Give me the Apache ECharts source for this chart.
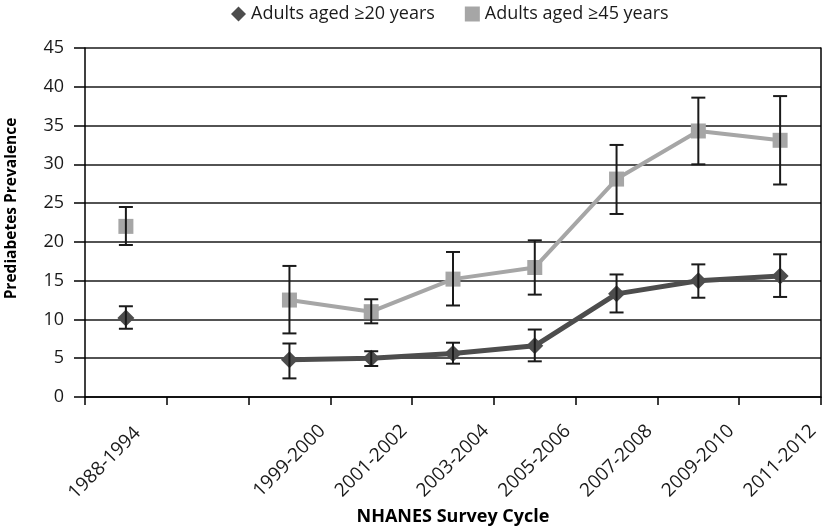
<!DOCTYPE html>
<html>
<head>
<meta charset="utf-8">
<script src="https://cdn.jsdelivr.net/npm/echarts@6/dist/echarts.min.js"></script>
<style>html,body{margin:0;padding:0;background:#fff}#c{width:825px;height:531px}</style>
</head>
<body>
<div id="c"></div>
<script>
const categories = ['1988-1994', '', '1999-2000', '2001-2002', '2003-2004', '2005-2006', '2007-2008', '2009-2010', '2011-2012'];
const yTicks = [0, 5, 10, 15, 20, 25, 30, 35, 40, 45];

const adults20 = [10.2, null, 4.8, 5.0, 5.6, 6.6, 13.3, 15.0, 15.6];
const adults20Low = [8.8, null, 2.4, 4.0, 4.3, 4.6, 10.9, 12.8, 12.9];
const adults20High = [11.7, null, 6.9, 5.9, 7.0, 8.7, 15.8, 17.1, 18.4];

const adults45 = [22.0, null, 12.5, 11.0, 15.2, 16.7, 28.1, 34.3, 33.1];
const adults45Low = [19.6, null, 8.2, 9.5, 11.8, 13.2, 23.6, 30.0, 27.4];
const adults45High = [24.5, null, 16.9, 12.6, 18.7, 20.2, 32.5, 38.6, 38.8];

function errData(lo, hi) {
  const out = [];
  for (let i = 0; i < lo.length; i++) {
    if (lo[i] != null) out.push([i, lo[i], hi[i]]);
  }
  return out;
}
function renderErr(params, api) {
  const x = api.value(0);
  const p1 = api.coord([x, api.value(1)]);
  const p2 = api.coord([x, api.value(2)]);
  const w = 7;
  const st = { stroke: '#1a1a1a', lineWidth: 2 };
  return {
    type: 'group',
    children: [
      { type: 'line', shape: { x1: p1[0], y1: p1[1], x2: p2[0], y2: p2[1] }, style: st },
      { type: 'line', shape: { x1: p1[0] - w, y1: p1[1], x2: p1[0] + w, y2: p1[1] }, style: st },
      { type: 'line', shape: { x1: p2[0] - w, y1: p2[1], x2: p2[0] + w, y2: p2[1] }, style: st }
    ]
  };
}

// first category label sits a little left of its band centre in the original
const categoryItems = categories.map((c, i) => i === 0
  ? { value: c, textStyle: { align: 'center', verticalAlign: 'bottom', padding: [0, 33, 4, 0] } }
  : c);

const chart = echarts.init(document.getElementById('c'));
const font = '"Open Sans", "Noto Sans", sans-serif';
chart.setOption({
  animation: false,
  textStyle: { fontFamily: font },
  legend: {
    top: 0,
    left: 226,
    itemGap: 30,
    itemWidth: 15,
    itemHeight: 15,
    textStyle: { fontSize: 18, color: '#1a1a1a', fontFamily: font },
    data: [
      { name: 'Adults aged ≥20 years', icon: 'diamond', itemStyle: { color: '#4d4d4d' } },
      { name: 'Adults aged ≥45 years', icon: 'rect', itemStyle: { color: '#a6a6a6' } }
    ]
  },
  grid: { left: 85, right: 4, top: 48, bottom: 134, containLabel: false, outerBoundsMode: 'none' },
  xAxis: {
    type: 'category',
    data: categoryItems,
    boundaryGap: true,
    name: 'NHANES Survey Cycle',
    nameLocation: 'middle',
    nameGap: 111,
    nameMoveOverlap: false,
    nameTextStyle: { fontSize: 18, fontWeight: 'bold', color: '#000', fontFamily: font },
    axisLine: { show: true, lineStyle: { color: '#000', width: 1.5 } },
    axisTick: { show: true, length: 8, alignWithLabel: false, lineStyle: { color: '#000', width: 1.5 } },
    axisLabel: { rotate: 45, fontSize: 19, color: '#1a1a1a', margin: 64, interval: 0, fontFamily: font,
      align: 'center', verticalAlign: 'middle' },
    splitLine: { show: false }
  },
  yAxis: [{
    type: 'value',
    min: 0,
    max: 45,
    interval: 5,
    name: 'Prediabetes Prevalence',
    nameLocation: 'middle',
    nameGap: 65,
    nameTextStyle: { fontSize: 15.5, fontWeight: 'bold', color: '#000', fontFamily: font, padding: [0, 0, 0, 28] },
    axisLine: { show: true, lineStyle: { color: '#000', width: 1.5 } },
    axisTick: { show: true, length: 11, lineStyle: { color: '#000', width: 1.5 } },
    axisLabel: { fontSize: 18, color: '#1a1a1a', margin: 21, fontFamily: font,
      formatter: v => yTicks.includes(v) ? String(v) : '' },
    splitLine: { show: true, lineStyle: { color: '#1a1a1a', width: 1.5 } }
  }, {
    type: 'value',
    min: 0,
    max: 45,
    interval: 5,
    position: 'right',
    axisLine: { show: true, lineStyle: { color: '#000', width: 1.5 } },
    axisTick: { show: false },
    axisLabel: { show: false },
    splitLine: { show: false }
  }],
  series: [
    {
      name: 'Adults aged ≥45 years',
      type: 'line',
      data: adults45,
      connectNulls: false,
      symbol: 'rect',
      symbolSize: 15,
      itemStyle: { color: '#a6a6a6' },
      lineStyle: { color: '#a6a6a6', width: 4 },
      z: 3
    },
    {
      name: 'Adults aged ≥20 years',
      type: 'line',
      data: adults20,
      connectNulls: false,
      symbol: 'diamond',
      symbolSize: [17, 17],
      itemStyle: { color: '#4d4d4d' },
      lineStyle: { color: '#4d4d4d', width: 5 },
      z: 4
    },
    {
      name: 'err45',
      type: 'custom',
      data: errData(adults45Low, adults45High),
      renderItem: renderErr,
      encode: { x: 0, y: [1, 2] },
      z: 5,
      silent: true
    },
    {
      name: 'err20',
      type: 'custom',
      data: errData(adults20Low, adults20High),
      renderItem: renderErr,
      encode: { x: 0, y: [1, 2] },
      z: 5,
      silent: true
    }
  ]
});
</script>
</body>
</html>
